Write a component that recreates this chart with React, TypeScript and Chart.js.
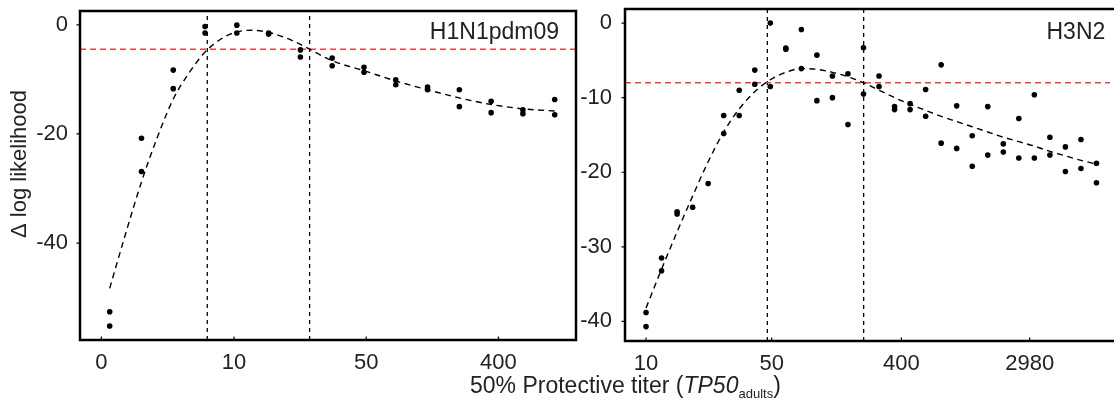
import React, { useEffect, useRef } from "react";
import { Chart, registerables } from "chart.js";

Chart.register(...registerables);

const FONT = "'Liberation Sans', Arial, Helvetica, sans-serif";
const TEXT = "#222";
const RED = "#ee3f48";

// ---------- H1N1pdm09 (left panel) ----------
// x = titer step index, y = Δ log likelihood
const h1TickPos = [-0.26, 3.91, 8.07, 12.23];
const h1TickLabels = ["0", "10", "50", "400"];
const h1YTicks = [0, -20, -40];
const h1XRange = [-0.934, 14.67];
const h1YRange = [-57.77, 2.53];
const h1X = [0, 0, 1, 1, 2, 2, 3, 3, 4, 4, 5, 5, 6, 6, 7, 7, 8, 8, 9, 9, 10, 10, 11, 11, 12, 12, 13, 13, 14, 14];
const h1Y = [-52.6, -55.2, -20.8, -26.9, -8.3, -11.7, -0.3, -1.5, -0.06, -1.5, -1.5, -1.7, -4.6, -5.9, -6.1, -7.5, -7.8, -8.7, -10.1, -11.0, -11.4, -11.9, -11.9, -15.0, -14.0, -16.1, -15.6, -16.3, -13.7, -16.5];
const h1CurveX = [0, 0.5, 1, 1.5, 2, 2.5, 3, 3.5, 4, 4.5, 5, 5.5, 6, 7, 8, 9, 10, 11, 12, 13, 14];
const h1CurveY = [-48.3, -38.3, -28.8, -20.6, -13.6, -8.8, -5.0, -2.6, -1.3, -1.0, -1.4, -2.3, -3.6, -6.6, -8.4, -10.3, -11.9, -13.4, -14.6, -15.4, -15.8];
const h1Threshold = -4.5;
const h1Bounds = [3.07, 6.29];

// ---------- H3N2 (right panel) ----------
const h3TickPos = [0, 8.09, 16.44, 24.7];
const h3TickLabels = ["10", "50", "400", "2980"];
const h3YTicks = [0, -10, -20, -30, -40];
const h3XRange = [-1.354, 29.87];
const h3YRange = [-42.63, 1.89];
const h3X = [0, 0, 1, 1, 2, 2, 3, 4, 5, 5, 6, 6, 7, 7, 8, 8, 9, 9, 10, 10, 11, 11, 12, 12, 13, 13, 14, 14, 15, 15, 16, 16, 17, 17, 18, 18, 19, 19, 20, 20, 21, 21, 22, 22, 23, 23, 24, 24, 25, 25, 26, 26, 27, 27, 28, 28, 29, 29];
const h3Y = [-38.8, -40.7, -31.5, -33.2, -25.3, -25.6, -24.7, -21.5, -12.4, -14.8, -9.0, -12.4, -6.3, -8.2, 0, -8.5, -3.35, -3.5, -0.85, -6.1, -4.3, -10.4, -7.1, -10.0, -6.8, -13.6, -3.3, -9.5, -7.1, -8.5, -11.2, -11.6, -10.8, -11.6, -8.9, -12.5, -5.6, -16.1, -11.1, -16.8, -15.1, -19.2, -11.2, -17.7, -16.2, -17.3, -12.8, -18.1, -9.6, -18.1, -15.3, -17.7, -16.6, -19.9, -15.6, -19.5, -18.8, -21.4];
const h3CurveX = [0, 1, 2, 3, 4, 5, 6, 7, 8, 9, 10, 11, 12, 13, 14, 15, 16, 17, 18, 19, 20, 21, 22, 23, 24, 25, 26, 27, 28, 29];
const h3CurveY = [-38.2, -33.0, -28.0, -23.2, -18.6, -14.6, -11.5, -9.2, -7.6, -6.6, -6.1, -6.2, -6.6, -7.2, -8.0, -9.0, -10.0, -10.9, -11.7, -12.5, -13.2, -13.9, -14.6, -15.3, -15.9, -16.5, -17.2, -17.8, -18.4, -18.9];
const h3Threshold = -8.0;
const h3Bounds = [7.81, 14.01];

type PanelCfg = {
  label: string;
  tickPos: number[];
  tickLabels: string[];
  yTicks: number[];
  xRange: number[];
  yRange: number[];
  px: number[];
  py: number[];
  cx: number[];
  cy: number[];
  threshold: number;
  bounds: number[];
  yAxisWidth: number;
  xAxisHeight: number;
  padTop: number;
  padRight: number;
  yPad: number;
  rightFrame: boolean;
  labelInset: number;
  yTitle?: string;
};

const framePlugin = {
  id: "frame",
  afterDraw(chart: any) {
    const o = chart.options.plugins.frame;
    const ctx = chart.ctx;
    const { left, top, right, bottom } = chart.chartArea;
    const xs = chart.scales.x;
    const ys = chart.scales.y;
    ctx.save();
    // tick marks
    ctx.strokeStyle = "#000";
    ctx.lineWidth = 1.2;
    ctx.beginPath();
    ys.ticks.forEach((t: any) => {
      const y = ys.getPixelForValue(t.value);
      ctx.moveTo(left - 3.5, y);
      ctx.lineTo(left, y);
    });
    xs.ticks.forEach((t: any) => {
      const x = xs.getPixelForValue(t.value);
      ctx.moveTo(x, bottom);
      ctx.lineTo(x, bottom - 3.5);
    });
    ctx.stroke();
    // frame
    ctx.lineWidth = 2.5;
    ctx.lineCap = "square";
    ctx.beginPath();
    if (o.rightFrame) {
      ctx.rect(left, top, right - left, bottom - top);
    } else {
      ctx.moveTo(right + 5, top);
      ctx.lineTo(left, top);
      ctx.lineTo(left, bottom);
      ctx.lineTo(right + 5, bottom);
    }
    ctx.stroke();
    // panel label
    ctx.fillStyle = TEXT;
    ctx.font = `23px ${FONT}`;
    ctx.textAlign = "right";
    ctx.textBaseline = "alphabetic";
    ctx.fillText(o.label, right - o.labelInset, 39.3);
    // y title
    if (o.yTitle) {
      ctx.translate(20, 164);
      ctx.rotate(-Math.PI / 2);
      ctx.font = `22px ${FONT}`;
      ctx.textAlign = "center";
      ctx.textBaseline = "middle";
      ctx.fillText(o.yTitle, 0, 0);
    }
    ctx.restore();
  },
};

function Panel({ cfg, width, left }: { cfg: PanelCfg; width: number; left: number }) {
  const ref = useRef<HTMLCanvasElement>(null);
  useEffect(() => {
    if (!ref.current) return;
    const points = cfg.px.map((x, i) => ({ x, y: cfg.py[i] }));
    const curve = cfg.cx.map((x, i) => ({ x, y: cfg.cy[i] }));
    const [x0, x1] = cfg.xRange;
    const [y0, y1] = cfg.yRange;
    const datasets: any[] = [
      {
        data: points,
        backgroundColor: "#000",
        borderColor: "#000",
        pointRadius: 2.8,
        pointBorderWidth: 0,
        showLine: false,
        order: 0,
      },
      {
        data: curve,
        showLine: true,
        borderColor: "#000",
        borderWidth: 1.4,
        borderDash: [6, 4.5],
        pointRadius: 0,
        cubicInterpolationMode: "monotone",
        order: 1,
      },
      {
        data: [
          { x: x0, y: cfg.threshold },
          { x: x1, y: cfg.threshold },
        ],
        showLine: true,
        borderColor: RED,
        borderWidth: 1.5,
        borderDash: [6, 4],
        pointRadius: 0,
        order: 2,
      },
      ...cfg.bounds.map((b) => ({
        data: [
          { x: b, y: y0 },
          { x: b, y: y1 },
        ],
        showLine: true,
        borderColor: "#000",
        borderWidth: 1.3,
        borderDash: [4, 4],
        pointRadius: 0,
        order: 3,
      })),
    ];
    const chart = new Chart(ref.current, {
      type: "scatter",
      data: { datasets },
      plugins: [framePlugin],
      options: {
        animation: false,
        responsive: false,
        events: [],
        layout: { padding: { top: cfg.padTop, right: cfg.padRight, left: 0, bottom: 0 } },
        plugins: {
          legend: { display: false },
          tooltip: { enabled: false },
          frame: {
            label: cfg.label,
            rightFrame: cfg.rightFrame,
            labelInset: cfg.labelInset,
            yTitle: cfg.yTitle,
          },
        } as any,
        scales: {
          x: {
            type: "linear",
            min: x0,
            max: x1,
            grid: { display: false },
            border: { display: false },
            afterBuildTicks: (s: any) => {
              s.ticks = cfg.tickPos.map((v) => ({ value: v }));
            },
            afterFit: (s: any) => {
              s.height = cfg.xAxisHeight;
              s.paddingLeft = 0;
              s.paddingRight = 0;
            },
            ticks: {
              autoSkip: false,
              maxRotation: 0,
              padding: 2,
              color: TEXT,
              font: { family: FONT, size: 22 },
              callback: (_v: any, i: number) => cfg.tickLabels[i],
            },
          },
          y: {
            type: "linear",
            min: y0,
            max: y1,
            grid: { display: false },
            border: { display: false },
            afterBuildTicks: (s: any) => {
              s.ticks = cfg.yTicks.map((v) => ({ value: v }));
            },
            afterFit: (s: any) => {
              s.width = cfg.yAxisWidth;
              s.paddingTop = 0;
              s.paddingBottom = 0;
            },
            ticks: {
              autoSkip: false,
              padding: cfg.yPad,
              color: TEXT,
              font: { family: FONT, size: 22 },
              callback: (v: any) => String(v),
            },
          },
        },
      },
    });
    return () => chart.destroy();
  }, [cfg]);
  return (
    <canvas
      ref={ref}
      width={width}
      height={402}
      style={{ position: "absolute", left, top: 0, width, height: 402 }}
    />
  );
}

const leftCfg: PanelCfg = {
  label: "H1N1pdm09",
  tickPos: h1TickPos,
  tickLabels: h1TickLabels,
  yTicks: h1YTicks,
  xRange: h1XRange,
  yRange: h1YRange,
  px: h1X,
  py: h1Y,
  cx: h1CurveX,
  cy: h1CurveY,
  threshold: h1Threshold,
  bounds: h1Bounds,
  yAxisWidth: 80,
  xAxisHeight: 62,
  padTop: 11,
  padRight: 3,
  yPad: 4,
  rightFrame: true,
  labelInset: 17,
  yTitle: "Δ log likelihood",
};

const rightCfg: PanelCfg = {
  label: "H3N2",
  tickPos: h3TickPos,
  tickLabels: h3TickLabels,
  yTicks: h3YTicks,
  xRange: h3XRange,
  yRange: h3YRange,
  px: h3X,
  py: h3Y,
  cx: h3CurveX,
  cy: h3CurveY,
  threshold: h3Threshold,
  bounds: h3Bounds,
  yAxisWidth: 45,
  xAxisHeight: 61,
  padTop: 9,
  padRight: 0,
  yPad: 5,
  rightFrame: false,
  labelInset: 4.7,
};

export default function App() {
  return (
    <div
      style={{
        position: "absolute",
        left: 0,
        top: 0,
        width: 1114,
        height: 402,
        background: "#fff",
        overflow: "hidden",
      }}
    >
      <Panel cfg={leftCfg} width={580} left={0} />
      <Panel cfg={rightCfg} width={534} left={580} />
      <div
        style={{
          position: "absolute",
          left: 470,
          top: 373.5,
          fontFamily: FONT,
          fontSize: 23,
          lineHeight: "23px",
          color: TEXT,
          whiteSpace: "nowrap",
        }}
      >
        50% Protective titer (<i>TP50</i>
        <span style={{ fontSize: 13, lineHeight: 1, verticalAlign: "-5px" }}>adults</span>)
      </div>
    </div>
  );
}
